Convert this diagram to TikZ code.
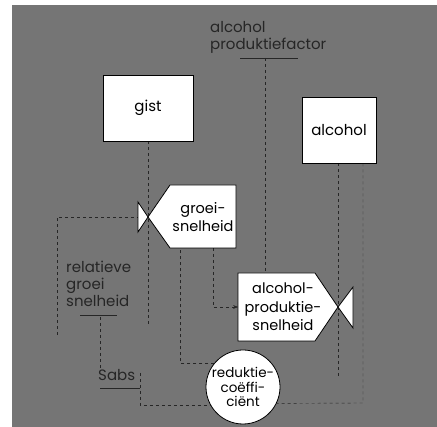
\documentclass[tikz,border=0pt]{standalone}
\usepackage{fontspec}
\setmainfont{Poppins}
\usetikzlibrary{arrows.meta,backgrounds}
\begin{document}
\begin{tikzpicture}[x=1pt, y=-1pt, >=Stealth,
  voorraad/.style={draw, fill=white, thick, minimum width=#1, minimum height=66pt,
    font=\fontsize{15}{18}\selectfont},
  tekst/.style={align=center, inner sep=0pt, font=\fontsize{14.5}{18.5}\selectfont},
  hulp/.style={align=left, inner sep=0pt, text=black!85, font=\fontsize{15}{17}\selectfont},
  info/.style={dashed, thin, black!85},
  streep/.style={thin, black!85}
]
\useasboundingbox (0,0) rectangle (437,427);

% Niveaus
\node[voorraad=90pt] (gist) at (148,108) {gist};
\node[voorraad=74pt] (alcohol) at (339,130) {alcohol};

% Groeisnelheid (punt naar links) met klep
\coordinate (gtip) at (148,217);
\coordinate (gklep) at (138,217);
\filldraw[fill=white, thick] (gtip) -- (170,185) -- (236,185) -- (236,248) -- (170,248) -- cycle;
\filldraw[fill=white, thick] (gtip) -- (138,202) -- (138,232) -- cycle;
\node[tekst] (groei) at (203,217) {groei-\\snelheid};

% Alcoholproduktiesnelheid (punt naar rechts) met klep
\coordinate (atip) at (338,307);
\coordinate (alinks) at (238,307);
\filldraw[fill=white, thick] (alinks |- 0,273) -- (315,273) -- (atip) -- (315,341) -- (alinks |- 0,341) -- cycle;
\filldraw[fill=white, thick] (atip) -- (353,287) -- (353,328) -- cycle;
\node[tekst] (aprod) at (283,307) {alcohol-\\produktie-\\snelheid};

% Reduktiecoefficient
\node[circle, draw, thick, fill=white, minimum size=74pt, inner sep=0pt, align=center,
  font=\fontsize{13.5}{14.5}\selectfont] (reduktie) at (243,387) {reduktie-\\coëffi-\\ciënt};

% Hulpgrootheden (grijze tekst)
\node[hulp, anchor=north west] (factor) at (210,21) {alcohol\\produktiefactor};
\node[hulp, anchor=north west] (relgroei) at (66,261) {relatieve\\groei\\snelheid};
\node[hulp, anchor=north west] (sabs) at (98,369) {Sabs};

% Vrije eindpunten en knikpunten
\coordinate (fstreep) at (265,58);
\coordinate (aptop) at (265,273);
\coordinate (gbron) at (148,325);
\coordinate (abron) at (338,378);
\coordinate (ahoek) at (363,403);
\coordinate (gonder) at (180,248);
\coordinate (gonder2) at (213,248);
\coordinate (rlinks) at (57,335);
\coordinate (rstreep) at (100,317);
\coordinate (shoek) at (140,373);

\begin{pgfonlayer}{background}
% grijze ondergrond
\fill[black!54] (12,5) rectangle (437,427);

% Stromen
\draw[info] (gist) -- (gbron);
\draw[info] (alcohol.south -| abron) -- (abron);

% Informatielijnen
\draw[info] (fstreep) -- (aptop);
\draw[info] (alcohol.south -| ahoek) -- (ahoek) -- (reduktie.-26);
\draw[info] (reduktie.140) -| (gonder);
\draw[info, ->] (gonder2) |- (alinks);
\draw[info] (rlinks) |- (gklep);
\draw[info] (rstreep) -- (rstreep |- sabs.north);
\draw[info] (shoek) |- (reduktie.209);

% Onderstrepingen
\draw[streep] (240,58) -- (298,58);
\draw[streep] (80,315) -- (117,315);
\draw[streep] (100,388) -- (140,388);
\end{pgfonlayer}
\end{tikzpicture}
\end{document}
